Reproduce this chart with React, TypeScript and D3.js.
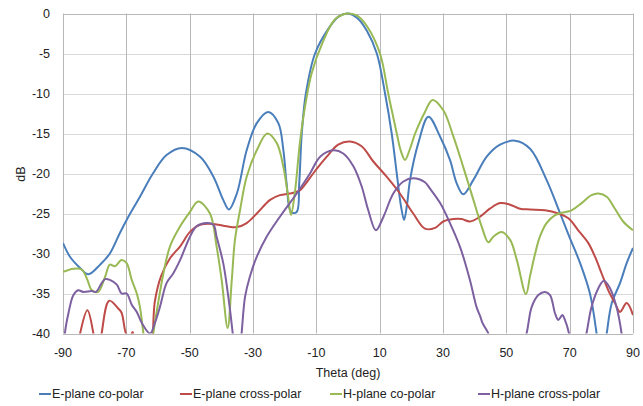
import React from "react";
import * as d3 from "d3";

const xTicks = [-90, -70, -50, -30, -10, 10, 30, 50, 70, 90];
const yTicks = [0, -5, -10, -15, -20, -25, -30, -35, -40];
const seriesNames = ["E-plane co-polar", "E-plane cross-polar", "H-plane co-polar", "H-plane cross-polar"];
const seriesColors = ["#4a7ebb", "#be4b48", "#98b954", "#7d60a0"];

const eCoTheta = [-90,-87.8,-84.6,-82,-78.3,-75.2,-72,-69.9,-65.7,-61.6,-57.3,-52.5,-46.7,-42.5,-39.4,-37.6,-35.1,-32,-28.8,-25.2,-22,-20.4,-19.4,-18,-16.2,-15.4,-14.6,-13.3,-10.4,-6,-3,0,3,6,9.1,11.7,13.8,15.4,16.7,17.7,18.6,19.6,22.2,25.4,29.1,32.2,34.3,36.4,39.6,43.8,48,52.7,57.5,62.7,67,70.1,73.3,76.4,78.5,80,81.7,83.3,85.9,88,90];
const eCoDb = [-28.7,-30.4,-31.8,-32.6,-31.4,-30,-27.4,-25.8,-22.9,-20,-17.7,-16.8,-17.9,-20.4,-23.3,-24.5,-22.5,-17.1,-13.7,-12.3,-13.7,-17.1,-21.2,-24.8,-24.8,-21.2,-15,-10,-5,-1.8,-0.4,0,-0.6,-2.2,-5,-10,-15,-20,-24,-25.8,-24,-20.8,-16.2,-12.9,-15.4,-18.3,-21.2,-22.6,-20.8,-17.9,-16.4,-15.9,-16.9,-20.8,-25,-28.1,-31.2,-35,-40,-45,-40,-36.2,-33.7,-31.2,-29.3];

const eXTheta = [-90,-86,-84.6,-82.3,-80.4,-79,-77.8,-75.4,-72.5,-71.5,-70.1,-69,-68,-67,-63,-61,-59,-56.2,-53,-49.9,-46.7,-42.5,-38.3,-35.1,-32,-28.8,-24.6,-21.5,-18.3,-15.2,-13.6,-11,-6.7,-3.1,0.6,4.3,8,12.2,16.4,20.6,24.3,27.5,30.1,33.3,35.9,38.5,41.7,44.8,48,51.2,54.3,57.5,62.2,66.4,69.6,72.7,75.9,78,80.1,82.2,84.3,85.9,88,90];
const eXDb = [-50,-44,-40,-37.1,-40,-44,-40,-35.9,-36.9,-37.4,-40,-40.5,-39.8,-43,-45,-36,-32.8,-30.6,-29.1,-27.3,-26.4,-26.3,-26.6,-26.7,-26.2,-25,-23.3,-22.7,-22.5,-22.1,-21.4,-20,-17.9,-16.4,-16,-16.6,-18.5,-20.4,-22.5,-25,-26.9,-26.8,-26,-25.7,-25.7,-26,-25.4,-24.4,-23.7,-23.9,-24.4,-24.5,-24.6,-25,-25.6,-27.1,-28.7,-30.4,-32.5,-34.6,-36.2,-37.3,-36.2,-37.7];

const hCoTheta = [-90,-86.7,-84.1,-82.3,-80.9,-78.9,-76.7,-75.2,-73.6,-71.5,-69.9,-68.3,-66.7,-65.7,-64.6,-63,-61.5,-58.3,-56.2,-53,-49.9,-47.3,-43.6,-41.5,-39.9,-38,-36.7,-35.7,-34.1,-32,-28.8,-25.5,-22.5,-20.4,-18.9,-18,-16.7,-15.2,-13.6,-11.5,-8,-4,0,3,6,10.1,12.7,15.4,16.7,18,19.5,21.2,24.3,26.7,30.1,33.3,36.4,39.6,42.2,44.3,45.9,48.5,51.2,53.3,56.2,57.5,59.1,60.6,62.7,65.4,67.5,70.6,73.8,76.9,79.1,81.7,84.3,86.9,90];
const hCoDb = [-32.3,-31.9,-32,-33.3,-34.6,-34.8,-32.9,-31.4,-31.6,-30.8,-31.2,-33.3,-35,-36.7,-40,-44,-40,-32.5,-29.1,-26.6,-24.8,-23.5,-25,-29.1,-33.3,-39.3,-33.3,-28.3,-24.6,-20.4,-17.1,-15,-16.2,-19.2,-22.9,-25.2,-22.1,-16.2,-11.7,-7.5,-3.6,-0.7,0,-0.3,-1.6,-5,-10,-15,-17.2,-18.3,-17,-15,-12.3,-10.8,-12.1,-15.4,-19.2,-23.3,-26.6,-28.6,-27.9,-27.3,-28.3,-30.8,-35.1,-32.8,-30,-27.9,-26.2,-25.2,-24.9,-24.6,-23.7,-22.7,-22.5,-22.9,-24.4,-26,-27.1];

const hXTheta = [-90,-89.4,-88.3,-86.7,-85.2,-83.6,-80.9,-79.6,-77.8,-76.7,-75.2,-73,-71.5,-69.9,-68.3,-66.7,-65.1,-62.5,-61,-59.4,-57.3,-55.2,-53,-49.9,-47.8,-44.6,-42.5,-41.5,-39.4,-37.8,-36.4,-35,-33.6,-32.5,-31,-28.8,-25.7,-21.5,-16.2,-12,-8.8,-4.6,-1.5,1.7,4.3,6.4,8.8,11.2,14.3,17.5,20.6,24.3,25.9,29.1,32.2,35.4,38.5,40.6,41.7,42.5,43.8,44.3,46,50,56.4,58,60.1,62.2,63.8,65.4,66.4,67.7,68.5,69.8,72,75.3,76.9,79.1,80.8,82.7,84.8,86.4,88,90];
const hXDb = [-46,-40,-37.5,-35.2,-34.6,-34.8,-34.7,-34.8,-33.7,-33.2,-33.3,-33.9,-35,-35,-36.4,-37.3,-38.7,-40,-38.7,-36.7,-33.7,-32.5,-30.8,-27.9,-26.6,-26.2,-26.4,-27.9,-31.2,-35.4,-40,-46,-40,-35.4,-32.9,-30.4,-27.9,-25.4,-22.5,-20,-17.9,-17.1,-17.5,-19.1,-21.6,-24.6,-27.1,-25.4,-22.5,-21,-20.6,-21.1,-21.9,-23.7,-26.2,-29.2,-33.3,-36.7,-37.8,-38.7,-39.6,-40,-46,-50,-40,-36.7,-35.2,-34.8,-35.2,-37.5,-38.3,-37.7,-38.3,-40,-46,-40,-36.7,-34.3,-33.4,-34.3,-36.7,-40,-46,-50];

const seriesTheta = [eCoTheta, eXTheta, hCoTheta, hXTheta];
const seriesDb = [eCoDb, eXDb, hCoDb, hXDb];

const W = 643;
const H = 406;
const left = 63;
const right = 633;
const top = 13.5;
const bottom = 333.5;

export default function App() {
  const x = d3.scaleLinear().domain([-90, 90]).range([left, right]);
  const y = d3.scaleLinear().domain([-40, 0]).range([bottom, top]);
  const line = d3
    .line<[number, number]>()
    .x((d) => x(d[0]))
    .y((d) => y(d[1]))
    .curve(d3.curveCatmullRom.alpha(0.5));

  const font = "'Liberation Sans', Arial, sans-serif";
  const legendX = [39, 180, 330, 478];

  return (
    <svg
      width={W}
      height={H}
      style={{ position: "absolute", left: 0, top: 0, background: "#fff" }}
      fontFamily={font}
    >
      <defs>
        <clipPath id="plotClip">
          <rect x={left} y={top - 2} width={right - left} height={bottom - top + 2} />
        </clipPath>
      </defs>
      {yTicks.map((t) => (
        <line
          key={"h" + t}
          x1={left}
          x2={right}
          y1={Math.round(y(t)) + 0.5}
          y2={Math.round(y(t)) + 0.5}
          stroke={t === 0 || t === -40 ? "#b8b8b8" : "#d9d9d9"}
          strokeWidth={1}
        />
      ))}
      {xTicks.map((t) => (
        <line
          key={"v" + t}
          x1={Math.round(x(t)) + 0.5}
          x2={Math.round(x(t)) + 0.5}
          y1={top}
          y2={bottom}
          stroke="#b8b8b8"
          strokeWidth={1}
        />
      ))}
      <g clipPath="url(#plotClip)">
        {seriesTheta.map((th, i) => (
          <path
            key={"s" + i}
            d={line(th.map((t, j) => [t, seriesDb[i][j]] as [number, number])) || ""}
            fill="none"
            stroke={seriesColors[i]}
            strokeWidth={2}
            strokeLinejoin="round"
          />
        ))}
      </g>
      {yTicks.map((t) => (
        <text
          key={"yl" + t}
          x={50}
          y={y(t)}
          dy="0.35em"
          textAnchor="end"
          fontSize={12.5}
          fill="#222"
        >
          {t}
        </text>
      ))}
      {xTicks.map((t) => (
        <text
          key={"xl" + t}
          x={x(t)}
          y={353}
          dy="0.35em"
          textAnchor="middle"
          fontSize={12.5}
          fill="#222"
        >
          {t}
        </text>
      ))}
      <text x={(left + right) / 2} y={373} dy="0.35em" textAnchor="middle" fontSize={12.5} fill="#222">
        Theta (deg)
      </text>
      <text
        transform={`translate(21,174) rotate(-90)`}
        dy="0.35em"
        textAnchor="middle"
        fontSize={12.5}
        fill="#222"
      >
        dB
      </text>
      {seriesNames.map((n, i) => (
        <g key={"lg" + i} transform={`translate(${legendX[i]},394)`}>
          <line x1={0} x2={12} y1={0} y2={0} stroke={seriesColors[i]} strokeWidth={2} />
          <text x={13} y={0} dy="0.35em" fontSize={12.5} fill="#222">
            {n}
          </text>
        </g>
      ))}
    </svg>
  );
}
